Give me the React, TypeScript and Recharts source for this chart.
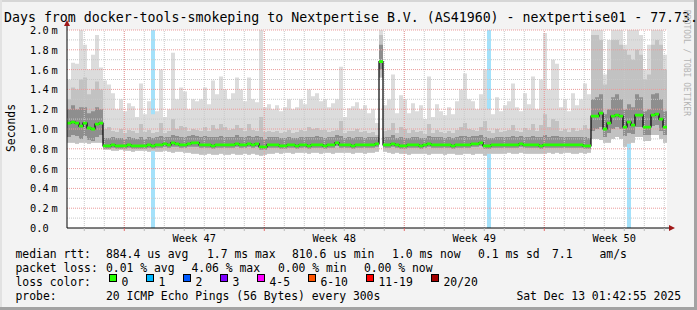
import React from 'react'
import {
  ComposedChart,
  Area,
  Line,
  XAxis,
  YAxis,
  CartesianGrid,
  ReferenceLine,
} from 'recharts'

// 150 slots of 0.2 day each (30 days), values in ms
const medianRtt = [
  1.06, 1.07, 1.06, 1.03, 1.06, 1.01, 1.0, 1.05, 1.06,
  0.83, 0.83, 0.84, 0.83, 0.83, 0.83, 0.84, 0.83, 0.83, 0.83,
  0.83, 0.84, 0.83, 0.84, 0.84, 0.85, 0.84, 0.86, 0.85, 0.84,
  0.84, 0.85, 0.86, 0.86, 0.84, 0.84, 0.84, 0.83, 0.84, 0.84,
  0.84, 0.84, 0.84, 0.85, 0.84, 0.84, 0.85, 0.84, 0.85, 0.82,
  0.82, 0.84, 0.84, 0.84, 0.83, 0.83, 0.84, 0.84, 0.83, 0.84,
  0.84, 0.83, 0.84, 0.84, 0.84, 0.83, 0.84, 0.84, 0.86, 0.84,
  0.84, 0.84, 0.83, 0.84, 0.84, 0.84, 0.84, 0.84, 0.85,
  1.68,
  0.84, 0.84, 0.85, 0.84, 0.83, 0.83, 0.84, 0.84, 0.84, 0.83,
  0.84, 0.85, 0.84, 0.84, 0.84, 0.84, 0.84, 0.83, 0.84, 0.84,
  0.84, 0.84, 0.85, 0.85, 0.86, 0.83, 0.83, 0.84, 0.84, 0.84,
  0.84, 0.84, 0.84, 0.84, 0.85, 0.84, 0.84, 0.84, 0.84, 0.83,
  0.84, 0.84, 0.84, 0.84, 0.84, 0.84, 0.84, 0.84, 0.84, 0.84,
  0.83, 0.83,
  1.13, 1.13, 1.16, 1.0, 1.06, 1.13, 1.14, 1.13, 1.02, 1.07,
  1.04, 1.14, 1.14, 1.02, 1.02, 1.14, 1.15, 1.1, 1.02,
]

const smokeMax = [
  1.5, 1.67, 1.66, 2.0, 1.85, 1.6, 1.75, 1.95, 1.62,
  1.49, 1.45, 1.36, 1.2, 1.3, 1.18, 1.26, 1.23, 1.12, 1.46,
  1.15, 1.28, 1.15, 1.18, 1.6, 1.12, 1.2, 1.77, 1.3, 1.42,
  1.38, 1.2, 1.3, 1.28, 1.3, 1.42, 1.25, 1.49, 1.35, 1.53,
  1.4, 1.3, 1.36, 1.52, 1.4, 1.28, 1.52, 1.3, 1.27, 2.0,
  1.22, 1.25, 1.2, 1.24, 1.18, 1.22, 1.3, 1.2, 1.22, 1.3,
  1.25, 1.4, 1.33, 1.36, 1.28, 1.3, 1.22, 1.26, 1.3, 1.63,
  1.12, 1.21, 1.23, 1.27, 1.2, 1.24, 1.16, 1.2, 1.06,
  2.0,
  1.24, 1.3, 1.55, 1.16, 1.34, 1.3, 1.16, 1.26, 1.18, 1.24,
  1.1, 1.53, 1.12, 1.25, 1.18, 1.14, 1.22, 1.15, 1.28, 1.4,
  1.56, 1.3, 1.28, 1.2, 1.35, 1.6, 1.2, 1.15, 1.32, 1.18,
  1.24, 1.28, 1.46, 1.22, 1.18, 1.36, 1.25, 1.53, 1.2, 1.5,
  1.97, 1.4, 1.7, 1.66, 1.22, 1.3, 1.18, 1.36, 1.24, 1.3,
  1.46, 1.35,
  2.0, 2.0, 2.0, 1.55, 1.9, 2.0, 2.0, 2.0, 1.85, 2.0,
  2.0, 2.0, 1.95, 1.6, 1.85, 2.0, 2.0, 2.0, 1.75,
]

const smokeHigh = [
  1.3, 1.42, 1.4, 1.5, 1.52, 1.35, 1.4, 1.48, 1.4,
  1.0, 1.02, 0.98, 0.97, 1.0, 0.96, 0.99, 0.98, 0.96, 1.05,
  0.97, 0.99, 0.96, 0.97, 1.06, 0.96, 0.98, 1.1, 1.0, 1.03,
  1.02, 0.98, 1.0, 0.99, 0.98, 1.02, 0.98, 1.04, 1.0, 1.05,
  1.02, 0.99, 1.0, 1.04, 1.01, 0.98, 1.05, 0.99, 0.98, 1.12,
  0.97, 0.98, 0.97, 0.98, 0.96, 0.97, 0.99, 0.96, 0.97, 0.99,
  0.98, 1.02, 1.0, 1.01, 0.99, 0.99, 0.97, 0.98, 0.99, 1.08,
  0.96, 0.98, 0.98, 1.0, 0.97, 0.98, 0.96, 0.97, 0.94,
  1.95,
  0.98, 0.99, 1.06, 0.96, 1.02, 1.0, 0.96, 0.99, 0.97, 0.98,
  0.95, 1.05, 0.96, 0.99, 0.97, 0.96, 0.98, 0.96, 0.99, 1.02,
  1.06, 1.0, 0.99, 0.98, 1.02, 1.08, 0.98, 0.96, 1.0, 0.97,
  0.98, 0.99, 1.04, 0.98, 0.97, 1.01, 0.99, 1.05, 0.98, 1.04,
  1.15, 1.02, 1.1, 1.08, 0.98, 1.0, 0.97, 1.01, 0.98, 0.99,
  1.04, 1.0,
  1.95, 1.95, 1.9, 1.45, 1.6, 1.9, 1.9, 1.85, 1.8, 1.75,
  1.7, 1.8, 1.75, 1.5, 1.55, 1.85, 1.9, 1.85, 1.6,
]

const coreHigh = [
  1.2, 1.24, 1.2, 1.22, 1.22, 1.16, 1.18, 1.22, 1.2,
  0.91, 0.91, 0.92, 0.91, 0.91, 0.9, 0.92, 0.91, 0.9, 0.92,
  0.9, 0.92, 0.91, 0.92, 0.93, 0.92, 0.92, 0.94, 0.93, 0.92,
  0.92, 0.93, 0.94, 0.93, 0.92, 0.93, 0.92, 0.92, 0.92, 0.93,
  0.92, 0.92, 0.92, 0.94, 0.92, 0.92, 0.93, 0.92, 0.93, 0.92,
  0.9, 0.92, 0.92, 0.92, 0.91, 0.91, 0.92, 0.91, 0.91, 0.92,
  0.92, 0.92, 0.92, 0.93, 0.92, 0.91, 0.92, 0.92, 0.94, 0.93,
  0.91, 0.92, 0.91, 0.92, 0.92, 0.91, 0.92, 0.92, 0.92,
  1.85,
  0.92, 0.92, 0.94, 0.91, 0.92, 0.91, 0.91, 0.92, 0.92, 0.91,
  0.91, 0.93, 0.92, 0.92, 0.92, 0.91, 0.92, 0.91, 0.92, 0.93,
  0.93, 0.92, 0.93, 0.93, 0.94, 0.92, 0.91, 0.91, 0.92, 0.92,
  0.92, 0.92, 0.93, 0.92, 0.93, 0.92, 0.92, 0.93, 0.92, 0.92,
  0.94, 0.92, 0.93, 0.93, 0.92, 0.92, 0.92, 0.92, 0.92, 0.92,
  0.92, 0.91,
  1.3, 1.32, 1.35, 1.15, 1.2, 1.32, 1.35, 1.3, 1.2, 1.25,
  1.22, 1.35, 1.32, 1.18, 1.2, 1.35, 1.36, 1.3, 1.18,
]

const coreLow = [
  0.92, 0.94, 0.93, 0.9, 0.93, 0.89, 0.88, 0.92, 0.94,
  0.8, 0.8, 0.81, 0.8, 0.8, 0.8, 0.81, 0.8, 0.8, 0.8,
  0.8, 0.81, 0.8, 0.81, 0.81, 0.82, 0.81, 0.82, 0.82, 0.81,
  0.81, 0.82, 0.82, 0.82, 0.81, 0.81, 0.81, 0.8, 0.81, 0.81,
  0.81, 0.81, 0.81, 0.82, 0.81, 0.81, 0.82, 0.81, 0.82, 0.79,
  0.79, 0.81, 0.81, 0.81, 0.8, 0.8, 0.81, 0.81, 0.8, 0.81,
  0.81, 0.8, 0.81, 0.81, 0.81, 0.8, 0.81, 0.81, 0.83, 0.81,
  0.81, 0.81, 0.8, 0.81, 0.81, 0.81, 0.81, 0.81, 0.82,
  1.6,
  0.81, 0.81, 0.82, 0.81, 0.8, 0.8, 0.81, 0.81, 0.81, 0.8,
  0.81, 0.82, 0.81, 0.81, 0.81, 0.81, 0.81, 0.8, 0.81, 0.81,
  0.81, 0.81, 0.82, 0.82, 0.83, 0.8, 0.8, 0.81, 0.81, 0.81,
  0.81, 0.81, 0.81, 0.81, 0.82, 0.81, 0.81, 0.81, 0.81, 0.8,
  0.81, 0.81, 0.81, 0.81, 0.81, 0.81, 0.81, 0.81, 0.81, 0.81,
  0.8, 0.8,
  0.98, 1.0, 1.02, 0.92, 0.96, 1.0, 1.02, 1.0, 0.93, 0.96,
  0.95, 1.02, 1.02, 0.94, 0.94, 1.03, 1.04, 0.98, 0.94,
]

const smokeMin = [
  0.86, 0.86, 0.85, 0.86, 0.86, 0.85, 0.86, 0.86, 0.86,
  0.79, 0.79, 0.78, 0.78, 0.79, 0.78, 0.78, 0.77, 0.78, 0.78,
  0.78, 0.77, 0.78, 0.77, 0.77, 0.78, 0.77, 0.76, 0.77, 0.77,
  0.76, 0.76, 0.75, 0.75, 0.74, 0.74, 0.75, 0.74, 0.74, 0.75,
  0.74, 0.74, 0.75, 0.74, 0.74, 0.75, 0.74, 0.75, 0.74, 0.73,
  0.74, 0.75, 0.75, 0.76, 0.75, 0.76, 0.76, 0.75, 0.76, 0.76,
  0.76, 0.75, 0.76, 0.76, 0.75, 0.76, 0.76, 0.75, 0.76, 0.76,
  0.76, 0.76, 0.75, 0.76, 0.76, 0.75, 0.76, 0.76, 0.77,
  1.52,
  0.77, 0.76, 0.75, 0.76, 0.75, 0.75, 0.74, 0.75, 0.75, 0.75,
  0.75, 0.74, 0.75, 0.75, 0.75, 0.74, 0.75, 0.75, 0.74, 0.74,
  0.75, 0.75, 0.74, 0.75, 0.75, 0.73, 0.75, 0.75, 0.75, 0.75,
  0.75, 0.76, 0.75, 0.75, 0.76, 0.75, 0.75, 0.75, 0.75, 0.75,
  0.75, 0.76, 0.75, 0.76, 0.75, 0.76, 0.76, 0.75, 0.75, 0.76,
  0.75, 0.76,
  0.9, 0.9, 0.89, 0.86, 0.86, 0.9, 0.92, 0.9, 0.82, 0.85,
  0.86, 0.92, 0.92, 0.88, 0.88, 0.94, 0.94, 0.9, 0.86,
]

// slots where 1 of 20 pings was lost
const lossSlots = [21, 105, 140]

const weekLines = [2.865, 9.865, 16.865, 23.865]
const weekCenters = [6.365, 13.365, 20.365, 27.365]
const weekLabels = ['Week 47', 'Week 48', 'Week 49', 'Week 50']
const dayLines = Array.from({ length: 30 }, (_, k) => +(0.865 + k).toFixed(3))
const yTicks = [0, 0.2, 0.4, 0.6, 0.8, 1.0, 1.2, 1.4, 1.6, 1.8, 2.0]
const yMinor = [0.1, 0.3, 0.5, 0.7, 0.9, 1.1, 1.3, 1.5, 1.7, 1.9]
const yMajor = [0.2, 0.4, 0.6, 0.8, 1.0, 1.2, 1.4, 1.6, 1.8, 2.0]

const lossLegend = [
  { label: '0', color: '#26ff00' },
  { label: '1', color: '#00b8ff' },
  { label: '2', color: '#0059ff' },
  { label: '3', color: '#7e00ff' },
  { label: '4-5', color: '#ff00ff' },
  { label: '6-10', color: '#ff5500' },
  { label: '11-19', color: '#ff0000' },
  { label: '20/20', color: '#a10000' },
]

const legendRows = [
  [
    [15.5, 'median rtt:'],
    [106, '884.4 us avg'],
    [207, '1.7 ms max'],
    [292, '810.6 us min'],
    [392, '1.0 ms now'],
    [478, '0.1 ms sd'],
    [552, '7.1'],
    [599.5, 'am/s'],
  ],
  [
    [15.5, 'packet loss:'],
    [106, '0.01 % avg'],
    [191.5, '4.06 % max'],
    [278, '0.00 % min'],
    [364, '0.00 % now'],
  ],
  [[15.5, 'loss color:']],
  [
    [15.5, 'probe:'],
    [106, '20 ICMP Echo Pings (56 Bytes) every 300s'],
  ],
] as [number, string][][]

const Y_MAX = 2
const MONO = "'DejaVu Sans Mono', monospace"
const W = 697
const H = 310

type Row = {
  t: number
  med: number
  top: number
  hi: number
  dhi: number
  dlo: number
  lo: number
  loss: number
}

const N = medianRtt.length
const rows: Row[] = Array.from({ length: N + 1 }, (_, k) => {
  const i = Math.min(k, N - 1)
  return {
    t: (k * 30) / N,
    med: medianRtt[i],
    top: smokeMax[i],
    hi: smokeHigh[i],
    dhi: coreHigh[i],
    dlo: coreLow[i],
    lo: smokeMin[i],
    loss: k < N && lossSlots.includes(k) ? Y_MAX : 0,
  }
})

const XTick = (props: any) => {
  const { x, y, payload } = props
  const w = weekCenters.indexOf(payload.value)
  if (w >= 0) {
    return (
      <text x={x} y={y + 13.5} textAnchor="middle" fontFamily={MONO} fontSize={10.3} fill="#000">
        {weekLabels[w]}
      </text>
    )
  }
  const major = weekLines.includes(payload.value)
  return <line x1={x} x2={x} y1={y} y2={y + 3} stroke={major ? '#e07070' : '#bbbbbb'} />
}

const YTick = (props: any) => {
  const { x, y, payload } = props
  const v = payload.value as number
  return (
    <text x={x - 27} y={y + 4} fontFamily={MONO} fontSize={10.3} fill="#000">
      {v.toFixed(1)}
      {v !== 0 && <tspan dx={3}>m</tspan>}
    </text>
  )
}

const layer: React.CSSProperties = { position: 'absolute', left: 0, top: 0 }
const plotMargin = { top: 30, right: 30, bottom: 82, left: 67 }

export default function App() {
  let sx = 109
  const squares = lossLegend.map((l) => {
    const pos = sx
    sx += 30 + 7 * l.label.length
    return { ...l, x: pos }
  })

  return (
    <div style={{ ...layer, width: W, height: H, background: '#f3f3f3', overflow: 'hidden' }}>
      {/* smoke layer */}
      <div style={layer}>
        <ComposedChart width={W} height={H} data={rows} margin={plotMargin}>
          <CartesianGrid fill="#ffffff" horizontal={false} vertical={false} />
          <XAxis type="number" dataKey="t" domain={[0, 30]} hide allowDataOverflow />
          <YAxis type="number" domain={[0, Y_MAX]} hide allowDataOverflow />
          <Area
            dataKey="loss"
            type="stepAfter"
            fill="#a4e1fa"
            fillOpacity={1}
            stroke="none"
            isAnimationActive={false}
          />
          <Area
            dataKey={(d: Row) => [d.lo, d.top]}
            type="stepAfter"
            fill="#dcdcdc"
            fillOpacity={1}
            stroke="none"
            isAnimationActive={false}
          />
          <Area
            dataKey={(d: Row) => [d.lo, d.hi]}
            type="stepAfter"
            fill="#c2c2c2"
            fillOpacity={1}
            stroke="none"
            isAnimationActive={false}
          />
          <Area
            dataKey={(d: Row) => [d.dlo, d.dhi]}
            type="stepAfter"
            fill="#8e8e8e"
            fillOpacity={1}
            stroke="none"
            isAnimationActive={false}
          />
        </ComposedChart>
      </div>

      {/* grid, axes and median layer */}
      <div style={layer}>
        <ComposedChart
          width={W}
          height={H}
          data={rows}
          margin={{ top: 30, right: 30, bottom: 0, left: 0 }}
        >
          <XAxis
            type="number"
            dataKey="t"
            domain={[0, 30]}
            ticks={[...dayLines, ...weekCenters]}
            interval={0}
            height={82}
            axisLine={{ stroke: '#000' }}
            tickLine={false}
            tickSize={0}
            tickMargin={0}
            tick={<XTick />}
            allowDataOverflow
          />
          <YAxis
            type="number"
            domain={[0, Y_MAX]}
            ticks={yTicks}
            interval={0}
            width={67}
            axisLine={{ stroke: '#000' }}
            tickLine={false}
            tickSize={0}
            tickMargin={10}
            tick={<YTick />}
            allowDataOverflow
          />
          {dayLines.map((t) => (
            <ReferenceLine key={'dx' + t} x={t} stroke="#c8c8c8" strokeDasharray="1 1" />
          ))}
          {yMinor.map((v) => (
            <ReferenceLine key={'my' + v} y={v} stroke="#c8c8c8" strokeDasharray="1 1" />
          ))}
          {weekLines.map((t) => (
            <ReferenceLine key={'wx' + t} x={t} stroke="#eb9a9a" strokeDasharray="1 1" />
          ))}
          {yMajor.map((v) => (
            <ReferenceLine key={'My' + v} y={v} stroke="#eb9a9a" strokeDasharray="1 1" />
          ))}
          <Line
            dataKey="med"
            type="stepAfter"
            stroke="#000"
            strokeWidth={1.2}
            dot={false}
            activeDot={false}
            isAnimationActive={false}
          />
          <Area
            dataKey={(d: Row) => [d.med - 0.014, d.med + 0.014]}
            type="stepAfter"
            fill="#26ff00"
            fillOpacity={1}
            stroke="none"
            zIndex={450}
            isAnimationActive={false}
          />
        </ComposedChart>
      </div>

      <svg width={W} height={H} style={{ ...layer, pointerEvents: 'none' }} fontFamily={MONO}>
        <rect x={0} y={0} width={W} height={2} fill="#d6d6d6" />
        <rect x={0} y={0} width={2} height={H} fill="#e2e2e2" />
        <rect x={694} y={0} width={3} height={H} fill="#a3a3a3" />
        <rect x={0} y={307} width={W} height={3} fill="#a3a3a3" />

        <text x={4} y={22} fontSize={13.25} fill="#000">
          Days from docker-tools-smokeping to Nextpertise B.V. (AS41960) - nextpertise01 - 77.73.
        </text>

        <text x={15} y={128} fontSize={11.4} fill="#000" textAnchor="middle" transform="rotate(-90 15 128)">
          Seconds
        </text>

        <text x={684} y={10} fontSize={8} fill="#b4b4b4" transform="rotate(90 684 10)">
          RRDTOOL / TOBI OETIKER
        </text>

        <line x1={67} x2={67} y1={25} y2={30} stroke="#000" />
        <polygon points="64,26 70,26 67,20" fill="#a01818" />
        <line x1={667} x2={669} y1={228} y2={228} stroke="#000" />
        <polygon points="669,225 669,231 675,228" fill="#a01818" />

        {legendRows.map((row, r) =>
          row.map(([x, s]) => (
            <text key={r + s} x={x} y={258 + r * 14} fontSize={11.4} fill="#000" style={{ whiteSpace: 'pre' }}>
              {s}
            </text>
          )),
        )}
        {squares.map((s) => (
          <g key={s.label}>
            <rect x={s.x + 0.5} y={274.5} width={7} height={7} fill={s.color} stroke="#000" />
            <text x={s.x + 12.5} y={286} fontSize={11.4} fill="#000">
              {s.label}
            </text>
          </g>
        ))}
        <text x={681} y={300} fontSize={11.4} fill="#000" textAnchor="end">
          Sat Dec 13 01:42:55 2025
        </text>
      </svg>
    </div>
  )
}
